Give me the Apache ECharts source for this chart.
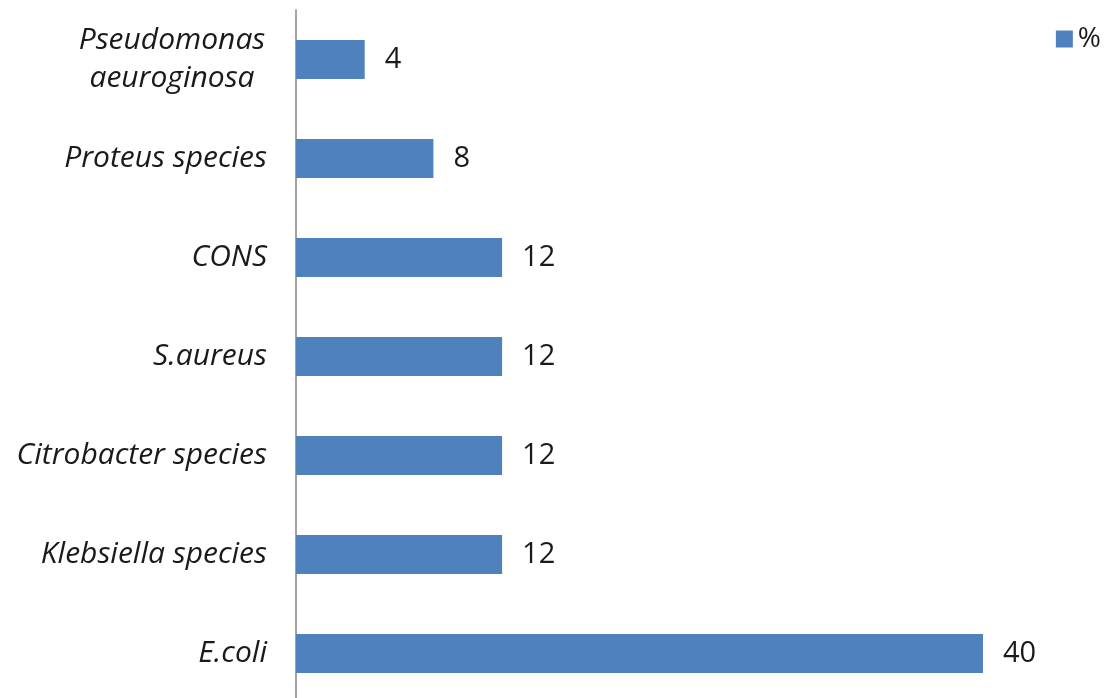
<!DOCTYPE html>
<html><head><meta charset="utf-8">
<script src="https://cdn.jsdelivr.net/npm/echarts@6/dist/echarts.min.js"></script>
<style>html,body{margin:0;padding:0;background:#fff;overflow:hidden;width:1107px;height:698px}#c{width:1107px;height:712px}</style>
</head><body><div id="c"></div>
<script>
const categories = ["E.coli", "Klebsiella species", "Citrobacter species", "S.aureus", "CONS", "Proteus species", "Pseudomonas\naeuroginosa"];
const values = [40, 12, 12, 12, 12, 8, 4];
const seriesName = "%";
const chart = echarts.init(document.getElementById('c'));
const FONT = 'Open Sans';
chart.setOption({
  animation: false,
  legend: {
    data: [seriesName], right: 1, top: 20, itemWidth: 17, itemHeight: 17, itemGap: 8,
    icon: 'rect',
    textStyle: {fontSize: 28, color: '#1a1a1a', fontFamily: FONT}
  },
  grid: {left: 296, top: 10, width: 687, height: 693, containLabel: false},
  xAxis: {type: 'value', min: 0, max: 40, show: false},
  yAxis: {
    type: 'category', data: categories,
    axisLine: {show: true, lineStyle: {color: '#868686', width: 1.5}},
    axisTick: {show: false},
    axisLabel: {
      margin: 29, fontSize: 30, fontStyle: 'italic', color: '#1a1a1a', fontFamily: FONT, lineHeight: 38,
      formatter: function (v) { return v.indexOf('\n') >= 0 ? '{c|' + v + '}' : v; },
      rich: {c: {width: 190, align: 'center', fontSize: 30, fontStyle: 'italic', color: '#1a1a1a', fontFamily: FONT, lineHeight: 38}}
    }
  },
  series: [{
    name: seriesName, type: 'bar', data: values, barWidth: 39,
    itemStyle: {color: '#4F81BD'},
    label: {show: true, position: 'right', distance: 20, fontSize: 29, color: '#1a1a1a', fontFamily: FONT}
  }]
});
</script></body></html>
